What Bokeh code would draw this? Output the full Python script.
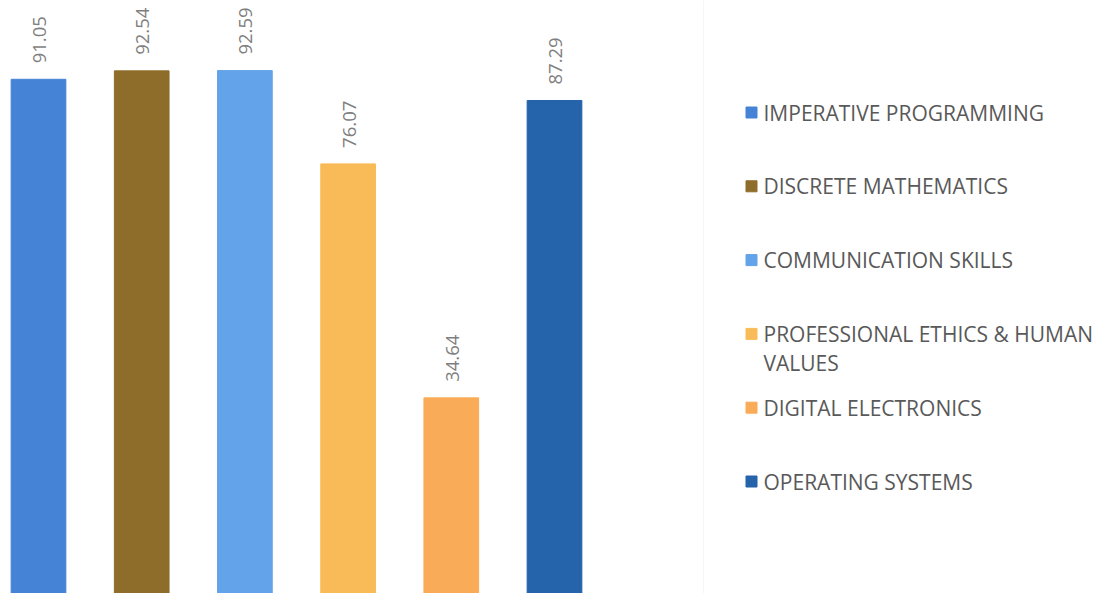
import math
from bokeh.plotting import figure
from bokeh.models import Range1d, ColumnDataSource, Span
from bokeh.core.properties import value
from bokeh.embed import file_html
from bokeh.resources import INLINE

# ---- data ----
subjects = [
    "IMPERATIVE PROGRAMMING",
    "DISCRETE MATHEMATICS",
    "COMMUNICATION SKILLS",
    "PROFESSIONAL ETHICS & HUMAN\nVALUES",
    "DIGITAL ELECTRONICS",
    "OPERATING SYSTEMS",
]
scores = [91.05, 92.54, 92.59, 76.07, 34.64, 87.29]
score_labels = ["91.05", "92.54", "92.59", "76.07", "34.64", "87.29"]
colors = ["#4583D6", "#8E6C2A", "#62A3EA", "#F9BB57", "#F9AB57", "#2563AA"]

# ---- layout constants ----
W, H = 1102, 593
YMAX = 105.0
XPX = 103.2            # pixels per category slot
X0 = 38                # pixel x of first bar centre
x_start = -X0 / XPX
x_end = (W - X0) / XPX
FONT = "Open Sans"

def px_x(px):
    return x_start + px / XPX

def px_y(py):
    return YMAX * (1 - py / H)

p = figure(width=W, height=H, x_range=Range1d(x_start, x_end),
           y_range=Range1d(0, YMAX), output_backend="svg",
           toolbar_location=None, min_border=0,
           x_axis_location=None, y_axis_location=None)
p.grid.visible = False
p.outline_line_color = None
p.background_fill_color = "white"
p.border_fill_color = "white"

idx = list(range(len(subjects)))
src = ColumnDataSource(dict(x=idx, top=scores, lab=score_labels,
                            color=colors, name=subjects))

p.vbar(x="x", top="top", bottom=0, width=0.53, color="color", source=src)

p.text(x="x", y="top", text="lab", source=src, angle=math.pi / 2,
       text_align="left", text_baseline="middle", y_offset=-16, x_offset=1,
       text_font=value(FONT), text_font_size="18.5px", text_color="#7f7f7f")

# faint separator between plot and legend
p.add_layout(Span(location=px_x(703), dimension="height",
                  line_color="#f6f6f6", line_width=1))

# ---- legend (drawn manually) ----
LEG_TOP = 112
LEG_STEP = 73.8
leg_y = [px_y(LEG_TOP + i * LEG_STEP) for i in idx]
leg_src = ColumnDataSource(dict(x=[px_x(751)] * len(idx), tx=[px_x(763)] * len(idx),
                                y=leg_y, color=colors, name=subjects))
p.scatter(x="x", y="y", marker="square", size=11, color="color", source=leg_src)
p.text(x="tx", y="y", text="name", source=leg_src, text_align="left",
       text_baseline="top", y_offset=-14, text_line_height=1.05,
       text_font=value(FONT), text_font_size="21px", text_color="#595959")

open("out.html", "w").write(file_html(p, INLINE))
